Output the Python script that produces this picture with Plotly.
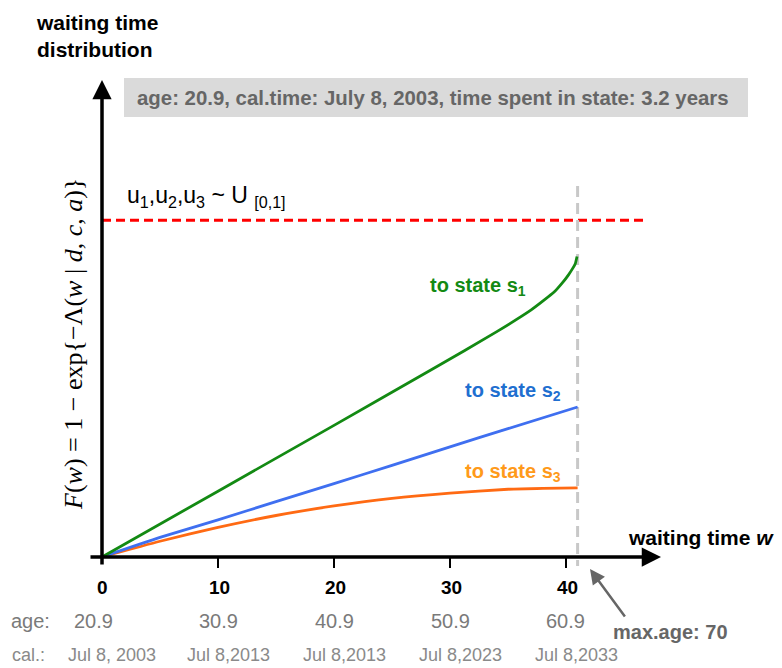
import plotly.graph_objects as go

W, H = 782, 668
# ---- data ----
w_green = [0, 10, 20, 28.5, 34, 37, 39, 39.7, 40.2, 40.55, 40.8, 40.95]
F_green = [0, 0.138, 0.276, 0.394, 0.472, 0.518, 0.556, 0.575, 0.591, 0.604, 0.615, 0.630]
w_blue = [0, 5, 10, 15, 20, 25, 30, 35, 41]
F_blue = [0, 0.041, 0.078, 0.116, 0.154, 0.192, 0.231, 0.269, 0.3145]
w_orange = [0, 5, 10, 15, 20, 25, 30, 35, 38, 41]
F_orange = [0, 0.033, 0.062, 0.087, 0.107, 0.123, 0.134, 0.142, 0.144, 0.145]
u_level = 0.706
w_max = 41.0
x_ticks = [0, 10, 20, 30, 40]
age_labels = ["20.9", "30.9", "40.9", "50.9", "60.9"]
cal_labels = ["Jul 8, 2003", "Jul 8,2013", "Jul 8,2013", "Jul 8,2023", "Jul 8,2033"]

# pixel scale helpers (plot area = full figure)
PXW = 11.6   # px per unit w
PXF = 477.0  # px per unit F
X0, Y0 = 102, 557
def wx(px): return (px - X0) / PXW
def fy(py): return (Y0 - py) / PXF
def pxp(px): return px / W
def pyp(py): return 1 - py / H

GREEN, BLUE, ORANGE = "#138a13", "#3f6ff0", "#ff6a13"
fig = go.Figure()

# red dashed level
fig.add_trace(go.Scatter(x=[0, 47.0], y=[u_level, u_level], mode="lines",
                         line=dict(color="#ff0000", width=3, dash="9px,5px"), hoverinfo="skip"))
# max age vertical
fig.add_trace(go.Scatter(x=[w_max, w_max], y=[fy(186), fy(566)], mode="lines",
                         line=dict(color="#c8c8c8", width=3, dash="11px,6px"), hoverinfo="skip"))
for xs, ys, c in [(w_orange, F_orange, ORANGE), (w_blue, F_blue, BLUE), (w_green, F_green, GREEN)]:
    fig.add_trace(go.Scatter(x=xs, y=ys, mode="lines", line=dict(color=c, width=2.8, shape="spline", smoothing=0.5),
                             hoverinfo="skip"))

shapes = []
# tick marks
for t in x_ticks[1:]:
    shapes.append(dict(type="line", xref="x", yref="y", x0=t, x1=t, y0=0, y1=fy(568),
                       line=dict(color="black", width=2)))
# gray box
shapes.append(dict(type="rect", xref="paper", yref="paper", x0=pxp(124), x1=pxp(748),
                   y0=pyp(117), y1=pyp(78), fillcolor="#dadada", line=dict(width=0), layer="below"))

ann = []
# axes with arrows
ann.append(dict(x=wx(661), y=0, ax=wx(89), ay=0, xref="x", yref="y", axref="x", ayref="y",
                text="", showarrow=True, arrowhead=2, arrowsize=1.1, arrowwidth=3.5, arrowcolor="black"))
ann.append(dict(x=0, y=fy(80), ax=0, ay=fy(566), xref="x", yref="y", axref="x", ayref="y",
                text="", showarrow=True, arrowhead=2, arrowsize=1.1, arrowwidth=3.5, arrowcolor="black"))
# max.age arrow
ann.append(dict(x=wx(590), y=fy(569), ax=wx(626), ay=fy(618), xref="x", yref="y", axref="x", ayref="y",
                text="", showarrow=True, arrowhead=2, arrowsize=1.2, arrowwidth=2.5, arrowcolor="#666666"))

SANS = "Liberation Sans, Arial, sans-serif"
def txt(px, py, s, size, color="black", xanchor="left", bold=False, family=SANS, **kw):
    d = dict(x=pxp(px), y=pyp(py), xref="paper", yref="paper", text=s, showarrow=False,
             xanchor=xanchor, yanchor="middle", font=dict(size=size, color=color, family=family,
                                                          weight="bold" if bold else "normal"))
    d.update(kw)
    ann.append(d)

txt(34, 36, "waiting time<br>distribution", 21, bold=True, align="left")
txt(135, 98, "age: 20.9, cal.time: July 8, 2003, time spent in state: 3.2 years", 20.4, "#666666", bold=True)
txt(125, 196, "u<sub>1</sub>,u<sub>2</sub>,u<sub>3</sub> ~ U <sub>[0,1]</sub>", 23)
txt(74, 344, "<i>F</i>(<i>w</i>) = 1 − exp{−Λ(<i>w</i> | <i>d</i>, <i>c</i>, <i>a</i>)}", 26,
    xanchor="center", family="Liberation Serif, Times New Roman, serif", textangle=-90)
txt(428, 286, "to state s<sub>1</sub>", 20, GREEN, bold=True)
txt(463, 391, "to state s<sub>2</sub>", 20, "#1f6fd0", bold=True)
txt(463, 472, "to state s<sub>3</sub>", 20, "#ff9a1a", bold=True)
txt(626, 537, "waiting time <i>w</i>", 21, bold=True)
for t in x_ticks:
    txt(X0 + t * PXW + 1, 587, str(t), 19, bold=True, xanchor="center")
txt(9, 621, "age:", 20, "#7a7a7a")
for t, lab, sh in zip(x_ticks, age_labels, [-9, 0, 0, 0, -1]):
    txt(X0 + t * PXW + sh, 621, lab, 20, "#7a7a7a", xanchor="center")
txt(10, 655, "cal.:", 18, "#8a8a8a")
for t, lab in zip(x_ticks, cal_labels):
    txt(X0 + t * PXW + 10, 655, lab, 18, "#8a8a8a", xanchor="center")
txt(611, 632, "max.age: 70", 20, "#666666", bold=True)

fig.update_layout(width=W, height=H, margin=dict(l=0, r=0, t=0, b=0),
                  plot_bgcolor="white", paper_bgcolor="white", showlegend=False,
                  xaxis=dict(range=[wx(0), wx(W)], visible=False, fixedrange=True),
                  yaxis=dict(range=[fy(H), fy(0)], visible=False, fixedrange=True),
                  shapes=shapes, annotations=ann)
fig.write_html("out.html", config={"displayModeBar": False},
               post_script="document.body.style.margin='0';document.body.style.overflow='hidden';")
